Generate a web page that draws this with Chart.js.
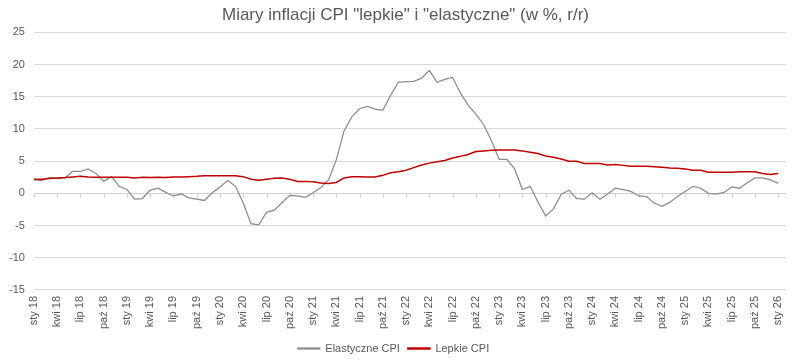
<!DOCTYPE html>
<html>
<head>
<meta charset="utf-8">
<script src="https://cdn.jsdelivr.net/npm/chart.js@4"></script>
<style>
  html, body { margin: 0; padding: 0; background: #fff; }
  #wrap { width: 811px; height: 364px; }
</style>
</head>
<body>
<div id="wrap"><canvas id="chart" width="811" height="364"></canvas></div>
<script>
// months sty 18 .. sty 26 (+ one empty slot at the end, like the Excel axis)
const monthNames = ["sty", "lut", "mar", "kwi", "maj", "cze", "lip", "sie", "wrz", "paź", "lis", "gru"];
const firstYear = 18;
const monthCount = 98;

const elastyczne = [
  2.1, 2.0, 2.5, 2.3, 2.4, 3.4, 3.4, 3.8, 3.1, 1.9, 2.6, 1.1,
  0.6, -0.9, -0.8, 0.5, 0.8, 0.15, -0.4, -0.1, -0.7, -0.9, -1.1, 0.1,
  1.0, 2.0, 1.1, -1.5, -4.7, -4.9, -2.95, -2.6, -1.45, -0.3, -0.4, -0.6,
  0.1, 0.9, 2.1, 5.2, 9.7, 11.9, 13.15, 13.5, 13.1, 12.9, 15.2, 17.25,
  17.35, 17.4, 17.9, 19.1, 17.25, 17.7, 18.0, 15.6, 13.7, 12.3, 10.7, 8.2,
  5.3, 5.3, 3.8, 0.6, 1.1, -1.3, -3.5, -2.4, -0.15, 0.5, -0.8, -0.9,
  0.1, -0.9, -0.1, 0.8, 0.6, 0.3, -0.4, -0.5, -1.5, -2.0, -1.4, -0.5,
  0.3, 1.1, 0.8, 0.0, -0.1, 0.15, 1.0, 0.8, 1.65, 2.4, 2.4, 2.1,
  1.55, null
];

const lepkie = [
  2.2, 2.2, 2.3, 2.4, 2.45, 2.55, 2.65, 2.55, 2.5, 2.5, 2.5, 2.5,
  2.5, 2.4, 2.5, 2.45, 2.5, 2.45, 2.55, 2.55, 2.6, 2.65, 2.75, 2.75,
  2.75, 2.75, 2.75, 2.6, 2.2, 2.05, 2.2, 2.35, 2.4, 2.2, 1.85, 1.85,
  1.8, 1.6, 1.55, 1.7, 2.4, 2.6, 2.6, 2.55, 2.55, 2.8, 3.2, 3.35,
  3.6, 4.0, 4.4, 4.7, 4.9, 5.1, 5.5, 5.75, 6.05, 6.5, 6.6, 6.7,
  6.75, 6.75, 6.75, 6.6, 6.4, 6.2, 5.8, 5.6, 5.35, 5.0, 5.0, 4.65,
  4.65, 4.65, 4.4, 4.5, 4.35, 4.2, 4.2, 4.2, 4.15, 4.05, 3.95, 3.9,
  3.8, 3.6, 3.6, 3.3, 3.3, 3.3, 3.3, 3.35, 3.35, 3.35, 3.1, 2.95,
  3.1, null
];

const labels = [];
for (let i = 0; i < monthCount; i++) {
  labels.push(monthNames[i % 12] + " " + (firstYear + Math.floor(i / 12)));
}

const textColor = "#595959";
const fontFamily = "'Liberation Sans', Arial, sans-serif";

// small tick marks under the zero line every 3 months
const zeroTicks = {
  id: "zeroTicks",
  beforeDatasetsDraw(chart) {
    const x = chart.scales.x;
    const y0 = Math.round(chart.scales.y.getPixelForValue(0)) + 0.5;
    const ctx = chart.ctx;
    ctx.save();
    ctx.strokeStyle = "#d0d0d0";
    ctx.lineWidth = 1;
    ctx.beginPath();
    for (let i = 0; i < monthCount; i += 3) {
      const px = Math.round(x.getPixelForValue(i)) + 0.5;
      ctx.moveTo(px, y0);
      ctx.lineTo(px, y0 + 4);
    }
    ctx.stroke();
    ctx.restore();
  }
};

// legend sits a bit left of the canvas centre in the original
const legendShift = {
  id: "legendShift",
  afterLayout(chart) {
    chart.legend.left -= 12;
    chart.legend.right -= 12;
  }
};

const ctx = document.getElementById("chart").getContext("2d");
const myChart = new Chart(ctx, {
  type: "line",
  data: {
    labels: labels,
    datasets: [
      {
        label: "Elastyczne CPI",
        data: elastyczne,
        borderColor: "#8c8c8c",
        backgroundColor: "#8c8c8c",
        borderWidth: 1.25,
        pointRadius: 0,
        tension: 0,
        order: 1,
      },
      {
        label: "Lepkie CPI",
        data: lepkie,
        borderColor: "#c00000",
        backgroundColor: "#c00000",
        borderWidth: 1.5,
        pointRadius: 0,
        tension: 0,
        order: 0,
      },
    ],
  },
  options: {
    responsive: false,
    animation: false,
    layout: { padding: { left: 0, right: 0, top: 0, bottom: 0 } },
    plugins: {
      title: {
        display: true,
        text: 'Miary inflacji CPI "lepkie" i "elastyczne" (w %, r/r)',
        color: textColor,
        font: { family: fontFamily, size: 17, weight: "normal" },
        padding: { top: 5, bottom: 7 },
      },
      legend: {
        position: "bottom",
        labels: {
          color: textColor,
          font: { family: fontFamily, size: 11 },
          boxWidth: 22,
          boxHeight: 1,
          padding: 8,
          sort: (a, b) => a.datasetIndex - b.datasetIndex,
        },
      },
      tooltip: { enabled: false },
    },
    scales: {
      x: {
        offset: false,
        grid: { display: false, drawTicks: false },
        border: { display: false },
        ticks: {
          autoSkip: false,
          minRotation: 90,
          maxRotation: 90,
          padding: 6,
          color: textColor,
          font: { family: fontFamily, size: 11 },
          callback: (val, i) => (i % 3 === 0 && i < monthCount - 1 ? labels[i] : ""),
        },
      },
      y: {
        min: -15,
        max: 25,
        grid: {
          color: (c) => (c.tick && c.tick.value === 0 ? "#d0d0d0" : "#d9d9d9"),
          drawTicks: false,
        },
        border: { display: false },
        ticks: {
          stepSize: 5,
          padding: 9,
          color: textColor,
          font: { family: fontFamily, size: 11 },
        },
      },
      // empty right axis only to keep the right margin without shifting the title
      yRight: {
        position: "right",
        grid: { display: false, drawTicks: false },
        border: { display: false },
        ticks: { display: false },
        afterFit: (s) => { s.width = 25; },
      },
    },
  },
  plugins: [zeroTicks, legendShift],
});
</script>
</body>
</html>
